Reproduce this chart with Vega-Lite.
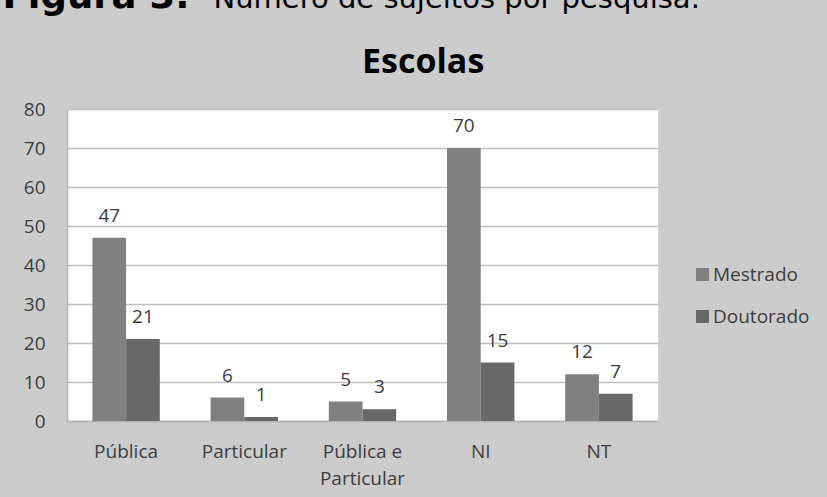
{
  "$schema": "https://vega.github.io/schema/vega-lite/v6.json",
  "width": 591,
  "height": 312,
  "autosize": {"type": "none"},
  "padding": {"left": 67, "top": 109, "right": 169, "bottom": 76},
  "background": "#cccccc",
  "title": {
    "text": "Escolas",
    "anchor": "start",
    "frame": "group",
    "dx": 295,
    "offset": -130,
    "baseline": "alphabetic",
    "font": "Open Sans",
    "fontSize": 34,
    "fontWeight": "bold",
    "color": "#000000"
  },
  "config": {
    "view": {"fill": "#ffffff", "stroke": "#d6d6d6", "strokeWidth": 1}
  },
  "data": {
    "values": [
      {"Escola": "Pública", "Nivel": "Mestrado", "n": 47},
      {"Escola": "Pública", "Nivel": "Doutorado", "n": 21},
      {"Escola": "Particular", "Nivel": "Mestrado", "n": 6},
      {"Escola": "Particular", "Nivel": "Doutorado", "n": 1},
      {"Escola": "Pública e Particular", "Nivel": "Mestrado", "n": 5},
      {"Escola": "Pública e Particular", "Nivel": "Doutorado", "n": 3},
      {"Escola": "NI", "Nivel": "Mestrado", "n": 70},
      {"Escola": "NI", "Nivel": "Doutorado", "n": 15},
      {"Escola": "NT", "Nivel": "Mestrado", "n": 12},
      {"Escola": "NT", "Nivel": "Doutorado", "n": 7}
    ]
  },
  "encoding": {
    "x": {
      "field": "Escola",
      "type": "nominal",
      "sort": ["Pública", "Particular", "Pública e Particular", "NI", "NT"],
      "scale": {"paddingInner": 0.43, "paddingOuter": 0.215},
      "axis": {
        "labelExpr": "datum.value == 'Pública e Particular' ? ['Pública e', 'Particular'] : datum.value",
        "labelAngle": 0,
        "labelFont": "Open Sans",
        "labelFontSize": 19,
        "labelColor": "#3c3c3c",
        "labelLineHeight": 27,
        "labelPadding": 21,
        "ticks": false,
        "tickSize": 0,
        "domainColor": "#b3b3b3",
        "domainWidth": 1.5,
        "title": "Figura 3:",
        "titleFont": "DejaVu Sans",
        "titleFontSize": 37,
        "titleFontWeight": "bold",
        "titleColor": "#000000",
        "titleAngle": 0,
        "titleAlign": "left",
        "titleBaseline": "alphabetic",
        "titleX": -65,
        "titleY": -414
      }
    },
    "xOffset": {
      "field": "Nivel",
      "type": "nominal",
      "sort": ["Mestrado", "Doutorado"],
      "scale": {"paddingInner": 0, "paddingOuter": 0}
    },
    "y": {
      "field": "n",
      "type": "quantitative",
      "scale": {"domain": [0, 80], "nice": false},
      "axis": {
        "values": [0, 10, 20, 30, 40, 50, 60, 70, 80],
        "labelFont": "Open Sans",
        "labelFontSize": 19,
        "labelColor": "#3c3c3c",
        "labelPadding": 22,
        "ticks": false,
        "tickSize": 0,
        "domainColor": "#b3b3b3",
        "domainWidth": 1.5,
        "grid": true,
        "gridColor": "#c0c0c0",
        "gridWidth": 1.5,
        "title": "Número de sujeitos por pesquisa.",
        "titleFont": "DejaVu Sans",
        "titleFontSize": 29,
        "titleFontWeight": "normal",
        "titleColor": "#000000",
        "titleAngle": 0,
        "titleAlign": "left",
        "titleBaseline": "alphabetic",
        "titleX": 146,
        "titleY": -102
      }
    }
  },
  "layer": [
    {
      "mark": {"type": "bar"},
      "encoding": {
        "color": {
          "field": "Nivel",
          "type": "nominal",
          "sort": ["Mestrado", "Doutorado"],
          "scale": {"domain": ["Mestrado", "Doutorado"], "range": ["#808080", "#686868"]},
          "legend": {
            "title": null,
            "orient": "none",
            "legendX": 626,
            "legendY": 156,
            "padding": 0,
            "symbolType": "square",
            "symbolSize": 169,
            "symbolStrokeWidth": 0,
            "labelFont": "Open Sans",
            "labelFontSize": 19,
            "labelColor": "#3c3c3c",
            "labelOffset": 1,
            "rowPadding": 22
          }
        }
      }
    },
    {
      "mark": {
        "type": "text",
        "baseline": "alphabetic",
        "dy": -16,
        "font": "Open Sans",
        "fontSize": 19,
        "color": "#3c3c3c"
      },
      "encoding": {
        "text": {"field": "n", "type": "quantitative"}
      }
    }
  ]
}
